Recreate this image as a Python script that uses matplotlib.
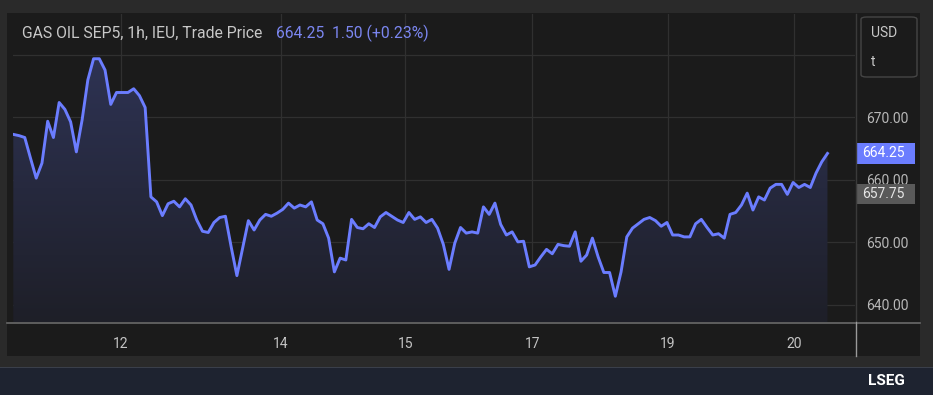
import numpy as np
import matplotlib
matplotlib.use("Agg")
import matplotlib.pyplot as plt
from matplotlib.patches import Rectangle, FancyBboxPatch, Polygon
import matplotlib.transforms as mtransforms

plt.rcParams['font.family'] = ['Roboto', 'DejaVu Sans']

# hourly trade prices
prices = [
    667.3, 667.1, 666.8, 663.5, 660.3, 662.7, 669.4, 666.8, 672.4, 671.3,
    669.3, 664.5, 669.6, 676.0, 679.4, 679.4, 677.6, 672.1, 674.0, 674.0,
    674.0, 674.6, 673.5, 671.6, 657.3, 656.5, 654.3, 656.2, 656.6, 655.7,
    657.0, 656.0, 653.6, 651.8, 651.6, 653.2, 654.0, 654.2, 649.3, 644.7,
    649.1, 653.5, 652.0, 653.6, 654.5, 654.2, 654.7, 655.3, 656.3, 655.5,
    656.0, 655.7, 656.5, 653.6, 653.0, 650.7, 645.3, 647.5, 647.2, 653.7,
    652.4, 652.2, 653.0, 652.4, 654.1, 654.8, 654.2, 653.6, 653.2, 654.8,
    653.7, 654.1, 653.2, 653.7, 652.3, 649.7, 645.7, 649.9, 652.4, 651.5,
    651.7, 651.5, 655.7, 654.5, 656.3, 652.9, 651.2, 651.7, 650.1, 650.2,
    646.1, 646.4, 647.7, 648.9, 648.2, 649.7, 649.5, 649.4, 651.7, 647.0,
    648.0, 650.7, 647.7, 645.2, 645.2, 641.4, 645.3, 650.9, 652.3, 653.0,
    653.7, 654.0, 653.5, 652.6, 653.2, 651.2, 651.2, 650.9, 650.9, 653.0,
    653.7, 652.4, 651.2, 651.4, 650.7, 654.5, 654.8, 656.0, 657.9, 655.2,
    657.3, 656.8, 658.7, 659.3, 659.3, 657.7, 659.6, 658.8, 659.3, 658.8,
    661.1, 662.9, 664.25,
]
day_ticks = [18.8, 46.7, 68.4, 90.5, 114.1, 136.1]
day_labels = ["12", "14", "15", "17", "19", "20"]
price_ticks = [640, 650, 660, 670, 680]
price_labels = ["640.00", "650.00", "660.00", "670.00", ""]  # 680 sits under the unit box
last_price = 664.25
prev_close = 657.75

W, H = 933, 395
fig = plt.figure(figsize=(W / 100, H / 100), dpi=100)
fig.patch.set_facecolor('#2a2a2a')

def fx(px):
    return px / W

def fy(py):
    return 1 - py / H

# dark panel and footer band
fig.patches.append(Rectangle((fx(7), fy(356)), fx(913), 343 / H, transform=fig.transFigure,
                             facecolor='#1b1b1b', edgecolor='none', zorder=-2))
fig.patches.append(Rectangle((0, 0), 1, 27 / H, transform=fig.transFigure,
                             facecolor='#1e2330', edgecolor='none', zorder=-2))
fig.patches.append(Rectangle((0, 27 / H), 1, 1 / H, transform=fig.transFigure,
                             facecolor='#3a3f4a', edgecolor='none', zorder=-2))

ax = fig.add_axes([fx(13), fy(322), fx(842), 308 / H])
ax.set_facecolor('#1b1b1b')

x = np.arange(len(prices))
y = np.array(prices)
ax.set_xlim(-0.05, 146.8)
ax.set_ylim(637.28, 686.56)

# gradient fill under the line
ymin, ymax = ax.get_ylim()
grad = np.linspace(0, 1, 256).reshape(-1, 1)
cmap = matplotlib.colors.LinearSegmentedColormap.from_list(
    'g', ['#1e1f28', '#2e3354'])
im = ax.imshow(grad, extent=[x[0], x[-1], ymin, 680], origin='lower',
               aspect='auto', cmap=cmap, zorder=1)
poly = Polygon(np.column_stack([np.r_[x[0], x, x[-1]], np.r_[ymin, y, ymin]]),
               closed=True, transform=ax.transData, facecolor='none')
ax.add_patch(poly)
im.set_clip_path(poly)

ax.plot(x, y, color='#6b7dff', lw=2.1, zorder=3, solid_joinstyle='round')

ax.set_xticks(day_ticks, day_labels)
ax.set_yticks(price_ticks, price_labels)
ax.yaxis.tick_right()
ax.grid(True, color='#303030', lw=0.9)
ax.set_axisbelow(True)
ax.tick_params(axis='both', length=0, colors='#b8b8b8', labelsize=10)
ax.tick_params(axis='x', pad=11, colors='#c4c4c4')
ax.tick_params(axis='y', pad=8)
for s in ax.spines.values():
    s.set_visible(False)

# axis separators
fig.lines.append(plt.Line2D([fx(7), fx(920)], [fy(322.5)] * 2, transform=fig.transFigure,
                            color='#6a6a6a', lw=1.2))
fig.lines.append(plt.Line2D([fx(855.5)] * 2, [fy(14), fy(322)], transform=fig.transFigure,
                            color='#3a3a3a', lw=1))
fig.lines.append(plt.Line2D([fx(855.5)] * 2, [fy(322), fy(356)], transform=fig.transFigure,
                            color='#9a9a9a', lw=1))

# title
fig.text(fx(22), fy(33), "GAS OIL SEP5, 1h, IEU, Trade Price", color='#c8c8c8',
         fontsize=11.3, va='center', ha='left')
fig.text(fx(276), fy(33), f"{last_price:.2f}  1.50 (+0.23%)", color='#7b86f0',
         fontsize=11.3, va='center', ha='left')

# unit box
fig.patches.append(FancyBboxPatch((fx(861), fy(77)), fx(56), 60 / H,
                                  boxstyle='round,pad=0,rounding_size=0.006',
                                  transform=fig.transFigure, facecolor='#1b1b1b',
                                  edgecolor='#454545', lw=1, zorder=5))
fig.text(fx(871), fy(33), "USD", color='#c8c8c8', fontsize=10, va='center', zorder=6)
fig.text(fx(871), fy(62), "t", color='#c8c8c8', fontsize=10, va='center', zorder=6)

# price tags
trans = mtransforms.blended_transform_factory(fig.transFigure, ax.transData)
for val, bg, fg in [(last_price, '#6b7dff', '#ffffff'), (prev_close, '#595959', '#e6e6e6')]:
    ax.add_artist(Rectangle((fx(857), val - 1.65), fx(58), 3.3, transform=trans,
                            facecolor=bg, edgecolor='none', zorder=6, clip_on=False))
    ax.text(fx(862), val, f"{val:.2f}", transform=trans, color=fg, fontsize=10,
            va='center', ha='left', zorder=7, clip_on=False)

# footer brand
fig.text(fx(905), fy(381), "LSEG", color='#ffffff', fontsize=11, fontweight='bold',
         va='center', ha='right')

fig.savefig('out.png', dpi=100, facecolor=fig.get_facecolor())
